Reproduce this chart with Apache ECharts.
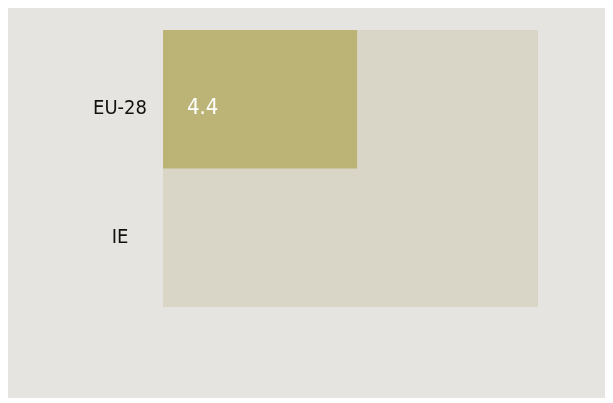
<!DOCTYPE html>
<html>
<head>
<meta charset="utf-8">
<script src="https://cdn.jsdelivr.net/npm/echarts@6/dist/echarts.min.js"></script>
<style>
  html, body { margin: 0; padding: 0; background: #fff; }
  #chart { position: absolute; left: 8px; top: 8px; width: 597px; height: 390px; }
</style>
</head>
<body>
<div id="chart"></div>
<script>
// categories and values
const countries = ['EU-28', 'IE'];
const values = [4.4, null];   // IE has no bar shown
const axisMax = 8.5;

const font = "'DejaVu Sans Condensed', sans-serif";

const chart = echarts.init(document.getElementById('chart'));

chart.setOption({
    backgroundColor: '#e5e4e0',
    animation: false,
    grid: {
        left: 155,
        top: 22,
        width: 375,
        height: 277,
        show: true,
        backgroundColor: '#d9d6c7',
        borderWidth: 0
    },
    xAxis: {
        type: 'value',
        min: 0,
        max: axisMax,
        show: false
    },
    yAxis: {
        type: 'category',
        inverse: true,
        data: countries.map((c, i) => ({
            value: c,
            textStyle: {
                align: 'center',
                verticalAlign: i === 0 ? 'top' : 'middle'
            }
        })),
        axisLine: {show: false},
        axisTick: {show: false},
        splitLine: {show: false},
        axisLabel: {
            margin: 43,
            color: '#111',
            fontFamily: font,
            fontSize: 20
        }
    },
    series: [{
        type: 'bar',
        data: values,
        barWidth: '100%',
        barCategoryGap: 0,
        itemStyle: {color: '#bcb477'},
        label: {
            show: true,
            position: 'insideLeft',
            distance: 24,
            offset: [0, 9],
            color: '#fff',
            fontFamily: font,
            fontSize: 22
        }
    }]
});
</script>
</body>
</html>
